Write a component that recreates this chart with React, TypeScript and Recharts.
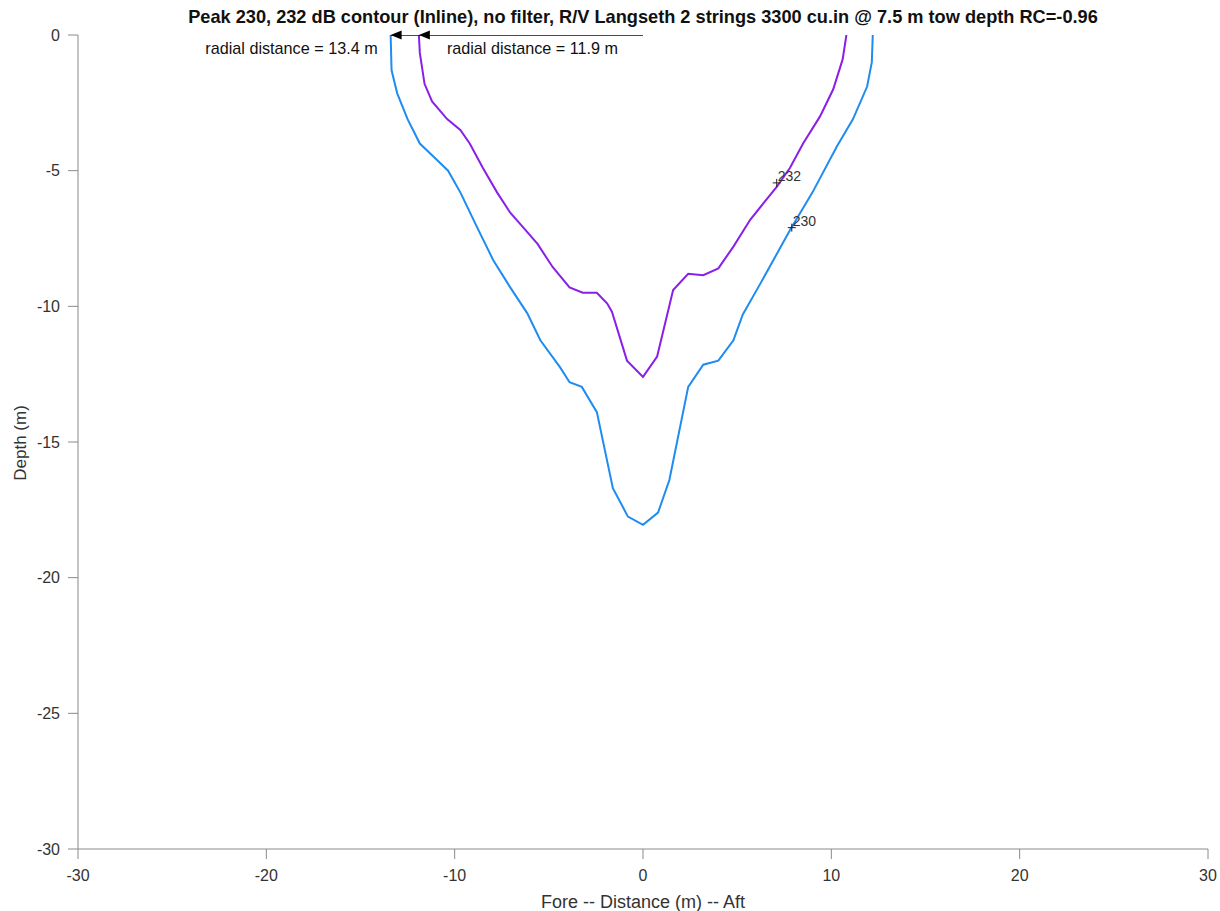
import React from 'react';
import { ComposedChart, Line, XAxis, YAxis, ReferenceDot } from 'recharts';

// Axis ticks
const xTicks = [-30, -20, -10, 0, 10, 20, 30];
const yTicks = [0, -5, -10, -15, -20, -25, -30];

// 230 dB contour: [distance (m), depth (m)]
const contour230Points: [number, number][] = [
  [-13.4, 0], [-13.35, -1.3], [-13.05, -2.15], [-12.5, -3.1], [-11.85, -4.0],
  [-10.95, -4.6], [-10.35, -5.0], [-9.7, -5.8], [-8.8, -7.1], [-7.95, -8.3],
  [-7.05, -9.3], [-6.15, -10.25], [-5.45, -11.25], [-4.4, -12.25], [-3.9, -12.8],
  [-3.25, -12.97], [-2.45, -13.9], [-1.6, -16.7], [-0.8, -17.75], [0, -18.05],
  [0.8, -17.6], [1.4, -16.4], [2.4, -12.97], [3.2, -12.15], [4.0, -12.0],
  [4.8, -11.25], [5.3, -10.3], [6.2, -9.2], [7.0, -8.2], [7.8, -7.2],
  [9.0, -5.8], [10.3, -4.1], [11.15, -3.1], [11.9, -1.9], [12.15, -1.0], [12.2, 0],
];

// 232 dB contour: [distance (m), depth (m)]
const contour232Points: [number, number][] = [
  [-11.9, 0], [-11.85, -0.66], [-11.6, -1.8], [-11.2, -2.45], [-10.4, -3.1],
  [-9.7, -3.5], [-9.2, -4.0], [-8.5, -4.9], [-7.75, -5.8], [-7.05, -6.55],
  [-6.35, -7.1], [-5.6, -7.7], [-4.8, -8.55], [-3.9, -9.3], [-3.2, -9.5],
  [-2.45, -9.5], [-1.9, -9.9], [-1.65, -10.2], [-0.85, -12.0], [0, -12.6],
  [0.75, -11.85], [1.6, -9.4], [2.4, -8.8], [3.2, -8.85], [4.0, -8.6],
  [4.8, -7.8], [5.7, -6.8], [6.4, -6.2], [7.1, -5.6], [7.8, -4.9],
  [8.5, -4.0], [9.4, -3.0], [10.1, -2.0], [10.6, -0.9], [10.8, 0],
];

// Radial distances at the surface (m)
const radial230 = 13.4;
const radial232 = 11.9;

// Inline contour labels
const contourLabels = [
  { level: '232', x: 7.1, depth: -5.45 },
  { level: '230', x: 7.9, depth: -7.1 },
];

const title =
  'Peak 230, 232 dB contour (Inline), no filter, R/V Langseth 2 strings 3300 cu.in @ 7.5 m tow depth RC=-0.96';

const toRows = (pts: [number, number][]) => pts.map(([x, depth]) => ({ x, depth }));
const contour230 = toRows(contour230Points);
const contour232 = toRows(contour232Points);
const arrowLine = [
  { x: 0, depth: 0 },
  { x: -radial230, depth: 0 },
];

const BLUE = '#1e8cf0';
const PURPLE = '#8a1fe8';
const AXIS = '#8a8a8a';
const FONT = '"Liberation Sans", Arial, Helvetica, sans-serif';

const radialLabel = (value: number, side: 'left' | 'right') => (props: any) => {
  const { cx, cy } = props;
  return (
    <g>
      <path d={`M${cx},${cy} L${cx + 11},${cy - 4.5} L${cx + 11},${cy + 4.5} Z`} fill="#000" />
      <text
        x={side === 'left' ? cx - 13 : cx + 28}
        y={cy + 13}
        textAnchor={side === 'left' ? 'end' : 'start'}
        dominantBaseline="central"
        fontFamily={FONT}
        fontSize={16.2}
        fill="#111"
      >
        {`radial distance = ${value} m`}
      </text>
    </g>
  );
};

const ContourMark = (label: string) => (props: any) => {
  const { cx, cy } = props;
  return (
    <g>
      <path d={`M${cx - 4},${cy} L${cx + 4},${cy} M${cx},${cy - 4} L${cx},${cy + 4}`} stroke="#222" strokeWidth={1} />
      <text x={cx + 1} y={cy - 2} fontFamily={FONT} fontSize={14} fill="#333">
        {label}
      </text>
    </g>
  );
};

const XLabel = (props: any) => {
  const vb = props.viewBox || { x: 78, y: 849, width: 1130, height: 40 };
  return (
    <text
      x={vb.x + vb.width / 2}
      y={vb.y + 53}
      textAnchor="middle"
      dominantBaseline="central"
      fontFamily={FONT}
      fontSize={18}
      fill="#333"
    >
      Fore -- Distance (m) -- Aft
    </text>
  );
};

const YLabel = (props: any) => {
  const vb = props.viewBox || { x: 18, y: 35, width: 60, height: 814 };
  const cx = 20;
  const cy = vb.y + vb.height / 2 + 1;
  return (
    <text
      x={cx}
      y={cy}
      transform={`rotate(-90 ${cx} ${cy})`}
      textAnchor="middle"
      dominantBaseline="central"
      fontFamily={FONT}
      fontSize={17}
      fill="#333"
    >
      Depth (m)
    </text>
  );
};

export default function App() {
  return (
    <div style={{ position: 'absolute', left: 0, top: 0, width: 1220, height: 911, background: '#fff' }}>
      <div
        style={{
          position: 'absolute',
          left: 643,
          top: 17,
          transform: 'translate(-50%, -50%)',
          whiteSpace: 'nowrap',
          fontFamily: FONT,
          fontWeight: 'bold',
          fontSize: 18.2,
          color: '#111',
        }}
      >
        {title}
      </div>
      <ComposedChart
        width={1220}
        height={911}
        margin={{ top: 35, right: 12, left: 18, bottom: 22 }}
        style={{ position: 'absolute', left: 0, top: 0 }}
      >
        <XAxis
          type="number"
          dataKey="x"
          domain={[-30, 30]}
          ticks={xTicks}
          allowDataOverflow
          height={40}
          stroke={AXIS}
          tickSize={10}
          tickMargin={11}
          tick={{ fill: '#333', fontSize: 16, fontFamily: FONT }}
          label={<XLabel />}
        />
        <YAxis
          type="number"
          dataKey="depth"
          domain={[-30, 0]}
          ticks={yTicks}
          allowDataOverflow
          width={60}
          stroke={AXIS}
          tickSize={10}
          tickMargin={8}
          tick={{ fill: '#333', fontSize: 16, fontFamily: FONT }}
          label={<YLabel />}
        />
        <Line
          data={contour230}
          dataKey="depth"
          type="linear"
          stroke={BLUE}
          strokeWidth={2}
          dot={false}
          isAnimationActive={false}
        />
        <Line
          data={contour232}
          dataKey="depth"
          type="linear"
          stroke={PURPLE}
          strokeWidth={2}
          dot={false}
          isAnimationActive={false}
        />
        <Line
          data={arrowLine}
          dataKey="depth"
          type="linear"
          stroke="#111"
          strokeWidth={1.5}
          dot={false}
          isAnimationActive={false}
        />
        <ReferenceDot x={-radial230} y={0} r={0} shape={radialLabel(radial230, 'left')} />
        <ReferenceDot x={-radial232} y={0} r={0} shape={radialLabel(radial232, 'right')} />
        {contourLabels.map((c) => (
          <ReferenceDot key={c.level} x={c.x} y={c.depth} r={0} shape={ContourMark(c.level)} />
        ))}
      </ComposedChart>
    </div>
  );
}
